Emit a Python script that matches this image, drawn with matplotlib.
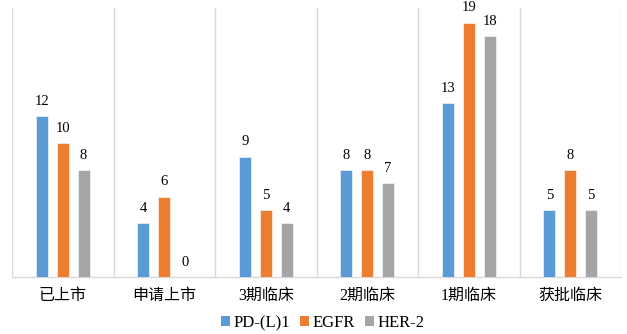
import matplotlib
matplotlib.use("Agg")
import matplotlib.pyplot as plt
import numpy as np
from matplotlib.patches import Patch

categories = ["已上市", "申请上市", "3期临床", "2期临床", "1期临床", "获批临床"]
series_names = ["PD-(L)1", "EGFR", "HER-2"]
pd_l1 = [12, 4, 9, 8, 13, 5]
egfr = [10, 6, 5, 8, 19, 8]
her2 = [8, 0, 4, 7, 18, 5]
colors = ["#5B9BD5", "#ED7D31", "#A5A5A5"]

serif = ["Liberation Serif", "Noto Sans CJK SC"]

fig = plt.figure(figsize=(6.27, 3.34), dpi=100)
ax = fig.add_axes([12 / 627, 1 - 277 / 334, 609 / 627, 269 / 334])

x = np.arange(len(categories))
width = 0.118
step = 0.205
for i, (vals, c) in enumerate(zip([pd_l1, egfr, her2], colors)):
    pos = x + (i - 1) * step
    ax.bar(pos, vals, width=width, color=c, edgecolor="white", linewidth=0.4, zorder=3)
    for xp, v in zip(pos, vals):
        ax.annotate(str(v), (xp, v), xytext=(0, 6), textcoords="offset points",
                    ha="center", va="bottom", fontsize=10.5, family=serif)

ax.set_xlim(-0.5, len(categories) - 0.5)
ax.set_ylim(0, 20.1)

# category separators
for b in np.arange(-0.5, len(categories), 1.0):
    ax.axvline(b, color="#D9D9D9", linewidth=1.0, zorder=1)

for s in ["top", "left", "right"]:
    ax.spines[s].set_visible(False)
ax.spines["bottom"].set_color("#D9D9D9")
ax.spines["bottom"].set_linewidth(1.0)
ax.set_yticks([])
ax.set_xticks(x)
ax.set_xticklabels(categories, fontsize=11.5, family=serif)
ax.tick_params(axis="x", length=0, pad=8)

handles = [Patch(facecolor=c, edgecolor="none") for c in colors]
fig.legend(handles, series_names, loc="center", bbox_to_anchor=(323 / 627, 1 - 323 / 334),
           ncol=3, frameon=False, prop={"family": serif, "size": 12},
           handlelength=0.5, handleheight=0.5, handletextpad=0.25, columnspacing=0.6)

fig.savefig("out.png", dpi=100)
